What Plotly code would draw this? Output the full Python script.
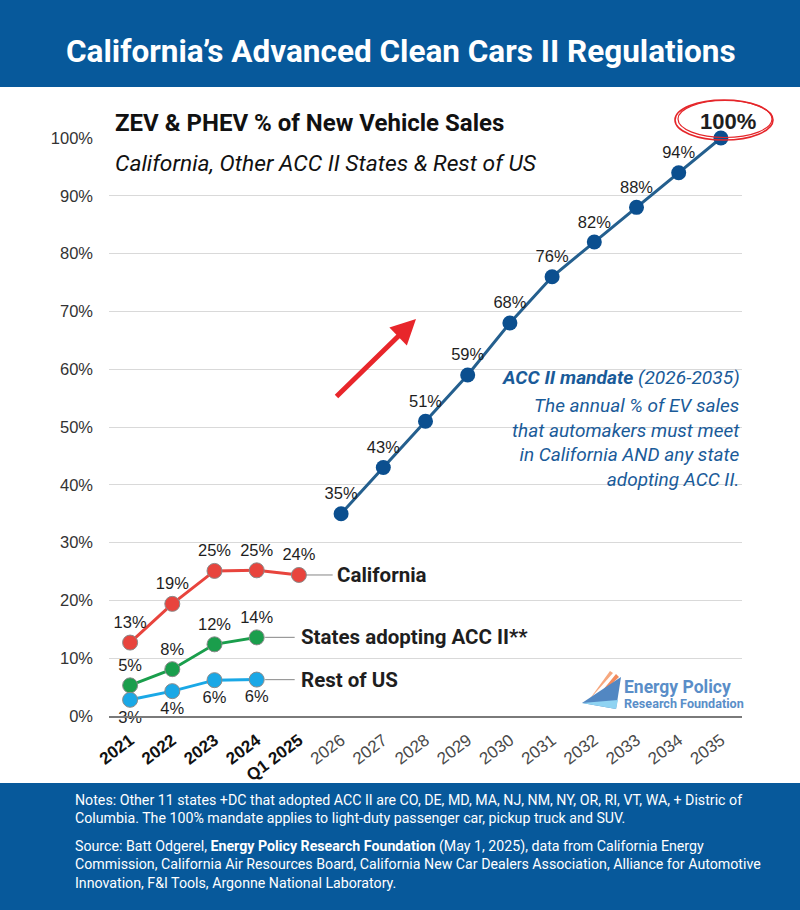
import plotly.graph_objects as go

# ---------------- data ----------------
categories = ["2021", "2022", "2023", "2024", "Q1 2025",
              "2026", "2027", "2028", "2029", "2030",
              "2031", "2032", "2033", "2034", "2035"]
hist_x = ["2021", "2022", "2023", "2024", "Q1 2025"]
california = [12.7, 19.4, 25.1, 25.2, 24.4]
acc_states = [5.3, 8.1, 12.4, 13.6]
rest_of_us = [2.8, 4.3, 6.2, 6.3]
mandate_x = ["2026", "2027", "2028", "2029", "2030",
             "2031", "2032", "2033", "2034", "2035"]
mandate = [35, 43, 51, 59, 68, 76, 82, 88, 94, 100]
y_ticks = [0, 10, 20, 30, 40, 50, 60, 70, 80, 90, 100]
Y_MAX = 100

# ---------------- geometry helpers (page pixels -> paper) ----------------
W, H = 800, 910
L, R, T, B = 109, 742, 138, 716
def px(x):
    return (x - L) / (R - L)
def py(y):
    return (B - y) / (B - T)

FONT = "Roboto"
NUM = "Liberation Sans"
BLUE_BAND = "#07599b"
C_RED = "#e8443d"
C_GREEN = "#1a9e4c"
C_LBLUE = "#1aa8e6"
C_NAVY = "#245f8e"
C_NAVY_M = "#0b4f8f"
TXT = "#1e1e1e"

fig = go.Figure()

def lbl(vals):
    return [f"{v:.0f}%" for v in vals]

fig.add_trace(go.Scatter(
    x=hist_x, y=california, mode="lines+markers+text",
    line=dict(color=C_RED, width=3),
    marker=dict(size=15, color=C_RED, line=dict(color="#8a8a8a", width=1)),
    text=lbl(california), textposition="top center",
    textfont=dict(family=NUM, size=16.5, color=TXT),
    cliponaxis=False, showlegend=False, hoverinfo="skip"))

fig.add_trace(go.Scatter(
    x=hist_x[:4], y=acc_states, mode="lines+markers+text",
    line=dict(color=C_GREEN, width=3),
    marker=dict(size=15, color=C_GREEN, line=dict(color="#8a8a8a", width=1)),
    text=lbl(acc_states), textposition="top center",
    textfont=dict(family=NUM, size=16.5, color=TXT),
    cliponaxis=False, showlegend=False, hoverinfo="skip"))

fig.add_trace(go.Scatter(
    x=hist_x[:4], y=rest_of_us, mode="lines+markers+text",
    line=dict(color=C_LBLUE, width=3),
    marker=dict(size=15, color=C_LBLUE, line=dict(color="#8a8a8a", width=1)),
    text=lbl(rest_of_us), textposition="bottom center",
    textfont=dict(family=NUM, size=16.5, color=TXT),
    cliponaxis=False, showlegend=False, hoverinfo="skip"))

m_text = lbl(mandate)
final_label = m_text[-1]
m_text[-1] = ""
fig.add_trace(go.Scatter(
    x=mandate_x, y=mandate, mode="lines+markers+text",
    line=dict(color=C_NAVY, width=3),
    marker=dict(size=15, color=C_NAVY_M),
    text=m_text, textposition="top center",
    textfont=dict(family=NUM, size=16.5, color=TXT),
    cliponaxis=False, showlegend=False, hoverinfo="skip"))

shapes = []
annotations = []
hx = {c: i for i, c in enumerate(categories)}

# bold final mandate label (y in paper units = value / axis max)
annotations.append(dict(xref="x", yref="paper", x=hx[mandate_x[-1]], y=mandate[-1] / Y_MAX,
                        text=f"<b>{final_label}</b>", showarrow=False,
                        xanchor="center", yanchor="middle", xshift=7, yshift=17,
                        font=dict(family=NUM, size=22, color=TXT)))

# banners
shapes.append(dict(type="rect", xref="paper", yref="paper", layer="below",
                   x0=px(0), x1=px(W), y0=py(0), y1=py(87),
                   fillcolor=BLUE_BAND, line=dict(width=0)))
shapes.append(dict(type="rect", xref="paper", yref="paper", layer="below",
                   x0=px(0), x1=px(W), y0=py(783), y1=py(H),
                   fillcolor=BLUE_BAND, line=dict(width=0)))

# white boxes hiding gridlines behind text blocks
shapes.append(dict(type="rect", xref="paper", yref="paper", layer="between",
                   x0=px(L + 1), x1=px(560), y0=py(100), y1=py(182),
                   fillcolor="white", line=dict(width=0)))
shapes.append(dict(type="rect", xref="paper", yref="paper", layer="between",
                   x0=px(492), x1=px(R + 1), y0=py(362), y1=py(498),
                   fillcolor="white", line=dict(width=0)))

# connectors to series names
shapes.append(dict(type="line", xref="x", yref="y",
                   x0=hx["Q1 2025"] + 0.1, x1=hx["Q1 2025"] + 0.8,
                   y0=california[-1], y1=california[-1], layer="below",
                   line=dict(color="#9a9a9a", width=1.2)))
shapes.append(dict(type="line", xref="x", yref="y",
                   x0=hx["2024"] + 0.2, x1=hx["2024"] + 0.9,
                   y0=acc_states[-1], y1=acc_states[-1], layer="below",
                   line=dict(color="#9a9a9a", width=1.2)))
shapes.append(dict(type="line", xref="x", yref="y",
                   x0=hx["2024"] + 0.2, x1=hx["2024"] + 0.9,
                   y0=rest_of_us[-1], y1=rest_of_us[-1], layer="below",
                   line=dict(color="#9a9a9a", width=1.2)))

annotations.append(dict(xref="x", yref="y", x=hx["Q1 2025"] + 0.86, y=california[-1],
                        text="<b>California</b>", showarrow=False, xanchor="left",
                        yanchor="middle", font=dict(family=FONT, size=20.5, color=TXT)))
annotations.append(dict(xref="x", yref="y", x=hx["2024"] + 1.0, y=acc_states[-1],
                        text="<b>States adopting ACC II**</b>", showarrow=False, xanchor="left",
                        yanchor="middle", font=dict(family=FONT, size=20.5, color=TXT)))
annotations.append(dict(xref="x", yref="y", x=hx["2024"] + 1.0, y=rest_of_us[-1],
                        text="<b>Rest of US</b>", showarrow=False, xanchor="left",
                        yanchor="middle", font=dict(family=FONT, size=20.5, color=TXT)))

# red ellipse around 100%
for (cx, cy, rx, ry, w) in [(724, 120, 49, 20, 1.6), (725, 119, 47, 18.5, 1.2)]:
    shapes.append(dict(type="circle", xref="paper", yref="paper", layer="above",
                       x0=px(cx - rx), x1=px(cx + rx), y0=py(cy + ry), y1=py(cy - ry),
                       line=dict(color="#e5262a", width=w)))

# red arrow
annotations.append(dict(xref="paper", yref="paper", x=px(416), y=py(319),
                        ax=-81, ay=79, axref="pixel", ayref="pixel",
                        text="", showarrow=True, arrowhead=2, arrowsize=1,
                        arrowwidth=5, arrowcolor="#e8262b", standoff=0, startstandoff=0))

# title banner
annotations.append(dict(xref="paper", yref="paper", x=px(401), y=py(52),
                        text="<b>California’s Advanced Clean Cars II Regulations</b>",
                        showarrow=False, xanchor="center", yanchor="middle",
                        font=dict(family=FONT, size=31.5, color="white")))

# chart title / subtitle
annotations.append(dict(xref="paper", yref="paper", x=px(113), y=py(123),
                        text="<b>ZEV &amp; PHEV % of New Vehicle Sales</b>",
                        showarrow=False, xanchor="left", yanchor="middle",
                        font=dict(family=FONT, size=24, color="#111111")))
annotations.append(dict(xref="paper", yref="paper", x=px(113), y=py(163),
                        text="<i>California, Other ACC II States &amp; Rest of US</i>",
                        showarrow=False, xanchor="left", yanchor="middle",
                        font=dict(family=FONT, size=22.8, color="#111111")))

# ACC II mandate note
annotations.append(dict(xref="paper", yref="paper", x=px(R), y=py(377),
                        text="<b><i>ACC II mandate</i></b><i> (2026-2035)</i>",
                        showarrow=False, xanchor="right", yanchor="middle",
                        font=dict(family=FONT, size=19.2, color="#1a5b99")))
annotations.append(dict(xref="paper", yref="paper", x=px(R), y=py(442),
                        text="<i>The annual % of EV sales<br>that automakers must meet<br>"
                             "in California AND any state<br>adopting ACC II.</i>",
                        showarrow=False, xanchor="right", yanchor="middle", align="right",
                        font=dict(family=FONT, size=19, color="#1a5b99")))

# logo
logo_pts = {
    "main": [(582, 703), (621, 677), (616, 709)],
    "low": [(582, 703), (616, 709), (618, 700)],
    "o1": [(589, 700), (610, 671), (613, 673)],
    "o2": [(594, 701), (616, 674), (619, 677)],
}
def path(pts):
    return "M " + " L ".join(f"{px(a):.5f},{py(b):.5f}" for a, b in pts) + " Z"
shapes.append(dict(type="path", xref="paper", yref="paper", path=path(logo_pts["o1"]),
                   fillcolor="#f6a77e", line=dict(width=0)))
shapes.append(dict(type="path", xref="paper", yref="paper", path=path(logo_pts["o2"]),
                   fillcolor="#f28a5c", line=dict(width=0)))
shapes.append(dict(type="path", xref="paper", yref="paper", path=path(logo_pts["main"]),
                   fillcolor="#5287c2", line=dict(width=0)))
shapes.append(dict(type="path", xref="paper", yref="paper", path=path(logo_pts["low"]),
                   fillcolor="#8fd3f2", line=dict(width=0)))
annotations.append(dict(xref="paper", yref="paper", x=px(622), y=py(687),
                        text="<b>Energy Policy</b>", showarrow=False,
                        xanchor="left", yanchor="middle",
                        font=dict(family=FONT, size=17.5, color="#5a8ec8")))
annotations.append(dict(xref="paper", yref="paper", x=px(622), y=py(703),
                        text="<b>Research Foundation</b>", showarrow=False,
                        xanchor="left", yanchor="middle",
                        font=dict(family=FONT, size=12.6, color="#5a8ec8")))

# footer
FOOT = "Roboto"
annotations.append(dict(xref="paper", yref="paper", x=px(73), y=py(790),
                        text="Notes: Other 11 states +DC that adopted ACC II are CO, DE, MD, MA, NJ, NM, NY, OR, RI, VT, WA, + Distric of"
                             "<br>Columbia. The 100% mandate applies to light-duty passenger car, pickup truck and SUV.",
                        showarrow=False, xanchor="left", yanchor="top", align="left",
                        font=dict(family=FOOT, size=14.2, color="white")))
annotations.append(dict(xref="paper", yref="paper", x=px(73), y=py(836),
                        text="Source: Batt Odgerel, <b>Energy Policy Research Foundation</b> (May 1, 2025), data from California Energy"
                             "<br>Commission, California Air Resources Board, California New Car Dealers Association, Alliance for Automotive"
                             "<br>Innovation, F&amp;I Tools, Argonne National Laboratory.",
                        showarrow=False, xanchor="left", yanchor="top", align="left",
                        font=dict(family=FOOT, size=14.2, color="white")))

ticktext = []
for c in categories:
    if c in hist_x:
        ticktext.append(f"<b>{c}</b>")
    else:
        ticktext.append(f"<span style='color:#4a4a4a'>{c}</span>")

fig.update_layout(
    width=W, height=H,
    margin=dict(l=L, r=W - R, t=T, b=H - B, pad=0),
    paper_bgcolor="white", plot_bgcolor="white",
    font=dict(family=FONT, color=TXT),
    shapes=shapes, annotations=annotations, showlegend=False,
    xaxis=dict(type="category", categoryorder="array", categoryarray=categories,
               tickmode="array", tickvals=categories, ticktext=ticktext,
               range=[-0.5, len(categories) - 0.5],
               tickangle=-37, tickfont=dict(family=NUM, size=17, color="#111111"),
               showgrid=False, showline=True, linecolor="#7a7a7a", linewidth=1.5,
               ticks="", ticklabelstandoff=6, fixedrange=True),
    yaxis=dict(range=[0, Y_MAX], tickmode="array", tickvals=y_ticks,
               ticktext=[f"{v}%" for v in y_ticks],
               tickfont=dict(family=NUM, size=16.5, color="#333333"),
               showgrid=True, gridcolor="#d9d9d9", gridwidth=1,
               zeroline=False, showline=False, ticks="", ticklabelstandoff=15,
               fixedrange=True),
)

fig.write_html("out.html", config={"displayModeBar": False},
               post_script="document.body.style.margin='0';")
